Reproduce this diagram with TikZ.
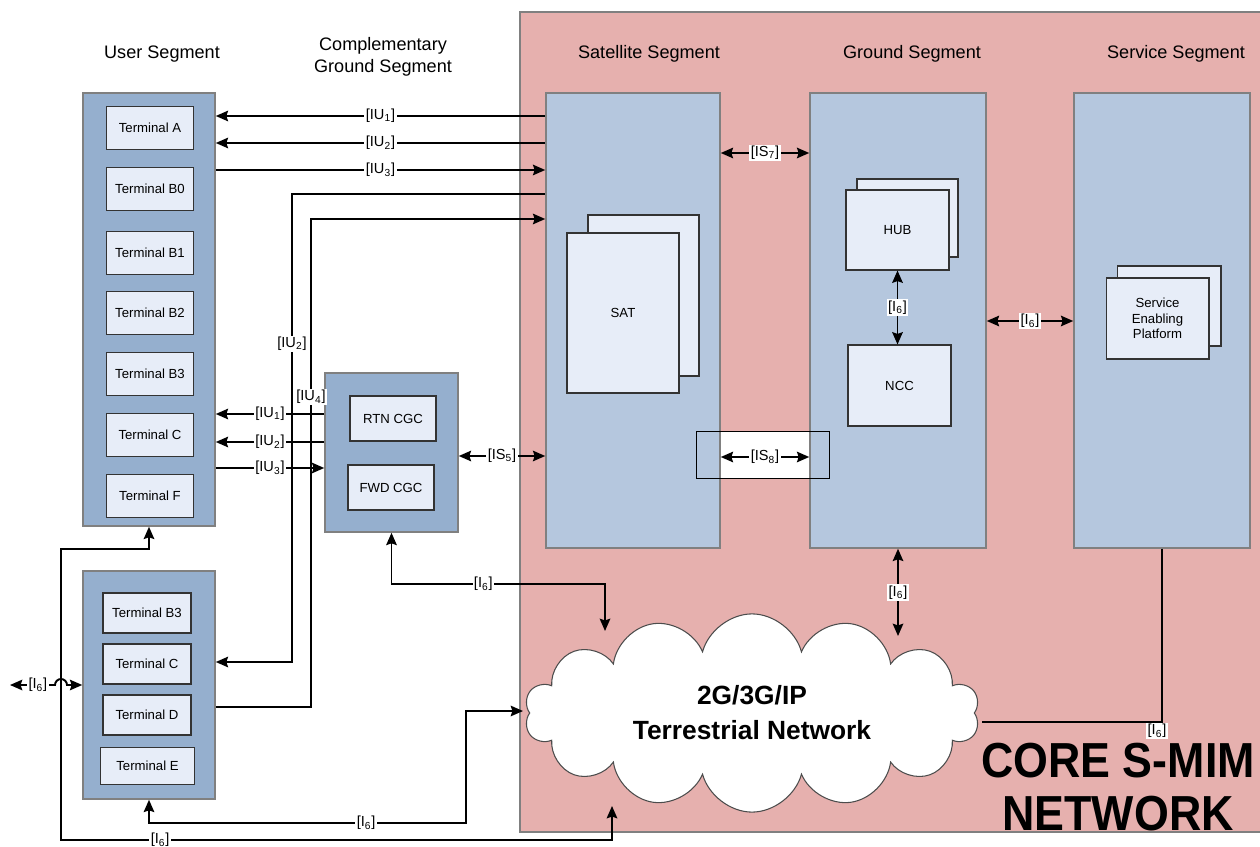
\documentclass[tikz,border=0pt]{standalone}
\usepackage{fontspec}
\setmainfont{Liberation Sans}
\usetikzlibrary{shapes.symbols,arrows.meta}

\definecolor{corepink}{RGB}{230,176,174}
\definecolor{usrblue}{RGB}{149,175,206}
\definecolor{segblue}{RGB}{181,199,222}
\definecolor{termfill}{RGB}{231,237,248}

\newcommand{\iface}[2]{[#1\textsubscript{#2}]}

\tikzset{
  segbox/.style={draw=gray,line width=0.9pt,fill=segblue,minimum width=3.52cm,minimum height=9.1cm},
  usrbox/.style={draw=gray,line width=0.9pt,fill=usrblue,minimum width=2.64cm},
  term/.style={draw=black!80,line width=0.6pt,fill=termfill,minimum width=1.74cm,minimum height=0.86cm,inner sep=0pt,font=\fontsize{7.5}{9}\selectfont},
  lab/.style={fill=white,inner sep=0.8pt,font=\fontsize{8.3}{9}\selectfont},
  title/.style={font=\fontsize{10.3}{12.5}\selectfont,align=center},
  conn/.style={line width=1.1pt},
}

\begin{document}
\begin{tikzpicture}[x=0.02cm,y=-0.02cm,>={Stealth[length=7pt,width=6pt,inset=1pt]}]
\useasboundingbox (0,0) rectangle (1260,847);
% core network area
\fill[corepink] (520,12) rectangle (1265,832);
\draw[gray,line width=0.8pt] (1265,12) -- (520,12) -- (520,832) -- (1265,832);
\fill[white] (720,431) rectangle (810,478);

% segment titles
\node[title] (tusr) at (162,54) {User Segment};
\node[title] (tcgc) at (383,57) {Complementary\\Ground Segment};
\node[title] (tsat) at (649,54) {Satellite Segment};
\node[title] (tgnd) at (912,54) {Ground Segment};
\node[title] (tsrv) at (1176,54) {Service Segment};

% user segment
\node[usrbox,minimum height=8.66cm] (usr) at (149,309.5) {};
\foreach \y/\n/\t in {128/ta/A,189/tb0/B0,253/tb1/B1,313/tb2/B2,374/tb3/B3,435/tc/C,496/tf/F}
  \node[term] (\n) at (150,\y) {Terminal \t};

\node[usrbox,minimum height=4.56cm] (usrb) at (149,685) {};
\foreach \y/\n/\t in {613/lb3/B3,664/lc/C,715/ld/D}
  \node[term,minimum width=1.76cm,minimum height=0.8cm] (\n) at (147,\y) {Terminal \t};
\node[term,minimum width=1.88cm,minimum height=0.74cm] (le) at (147.5,766) {Terminal E};

% complementary ground segment
\node[usrbox,minimum width=2.66cm,minimum height=3.18cm] (cgc) at (391.5,452.5) {};
\node[term,minimum width=1.72cm,minimum height=0.9cm] (rtn) at (393,418.5) {RTN CGC};
\node[term,minimum width=1.72cm,minimum height=0.9cm] (fwd) at (391,487.5) {FWD CGC};

% core segments
\node[segbox,minimum width=3.48cm] (sat) at (633,320.5) {};
\node[segbox] (gnd) at (898,320.5) {};
\node[segbox] (srv) at (1162,320.5) {};

\node[term,minimum width=2.22cm,minimum height=3.22cm] (satb) at (643.5,295.5) {};
\node[term,minimum width=2.24cm,minimum height=3.2cm] (satf) at (623,313) {SAT};

\node[term,minimum width=2.02cm,minimum height=1.56cm] (hubb) at (907.5,218) {};
\node[term,minimum width=2.06cm,minimum height=1.6cm] (hubf) at (897.5,230) {HUB};
\node[term,minimum width=2.06cm,minimum height=1.62cm] (ncc) at (899.5,385.5) {NCC};

\node[term,minimum width=2.08cm,minimum height=1.6cm] (sepb) at (1169,306) {};
\node[term,minimum width=2.06cm,minimum height=1.62cm,align=center,font=\fontsize{7.5}{8.8}\selectfont] (sepf) at (1157.5,318.5) {Service\\Enabling\\Platform};

\draw[black,line width=0.5pt] (696,431) rectangle (829,478);

% terrestrial network
\node[cloud,cloud puffs=14,aspect=2.5,draw=black!70,fill=white,line width=0.6pt,
  minimum width=9.1cm,minimum height=3.4cm,align=center,
  font=\bfseries\fontsize{15}{20}\selectfont] (net) at (752,713) {2G/3G/IP\\Terrestrial Network};

\node[font=\bfseries\fontsize{28}{30}\selectfont] (core1) at (1118,761) {\scalebox{0.91}[1]{CORE S-MIM}};
\node[font=\bfseries\fontsize{28}{30}\selectfont] (core2) at (1118,814) {\scalebox{0.91}[1]{NETWORK}};

\coordinate (netg) at (898,636);
\coordinate (netc) at (605,631);
\coordinate (nets) at (982,722);
\coordinate (netb) at (612,806);
\coordinate (netl) at (523,711);
\coordinate (ext) at (10,685);

% user links
\draw[conn,->] (sat.west|-0,116) -- node[lab]{\iface{IU}{1}} (usr.east|-0,116);
\draw[conn,->] (sat.west|-0,143) -- node[lab]{\iface{IU}{2}} (usr.east|-0,143);
\draw[conn,->] (usr.east|-0,170) -- node[lab]{\iface{IU}{3}} (sat.west|-0,170);
\draw[conn,->] (sat.west|-0,194) -- (292,194) -- node[lab,pos=0.32]{\iface{IU}{2}} (292,662) -- (usrb.east|-0,662);
\draw[conn,->] (usrb.east|-0,707) -- (311,707) -- node[lab,pos=0.635]{\iface{IU}{4}} (311,219) -- (sat.west|-0,219);

\draw[conn,->] (cgc.west|-0,414) -- node[lab]{\iface{IU}{1}} (usr.east|-0,414);
\draw[conn,->] (cgc.west|-0,442) -- node[lab]{\iface{IU}{2}} (usr.east|-0,442);
\draw[conn,->] (usr.east|-0,468) -- node[lab]{\iface{IU}{3}} (cgc.west|-0,468);

% inter-segment links
\draw[conn,<->] (cgc.east|-0,456) -- node[lab]{\iface{IS}{5}} (sat.west|-0,456);
\draw[conn,<->] (sat.east|-0,153) -- node[lab]{\iface{IS}{7}} (gnd.west|-0,153);
\draw[conn,<->] (sat.east|-0,457) -- node[lab]{\iface{IS}{8}} (gnd.west|-0,457);
\draw[conn,<->] (gnd.east|-0,321) -- node[lab]{\iface{I}{6}} (srv.west|-0,321);
\draw[conn,<->] (hubf.south) -- node[lab]{\iface{I}{6}} (hubf.south|-ncc.north);

% terrestrial links
\draw[conn,<->] (gnd.south) -- node[lab]{\iface{I}{6}} (netg);
\draw[conn,<->] (cgc.south) -- (cgc.south|-0,584) -- node[lab,pos=0.43]{\iface{I}{6}} (netc|-0,584) -- (netc);
\draw[conn] (srv.south) -- (srv.south|-nets) -- (nets);
\node[lab] (l6s) at (1157,731) {\iface{I}{6}};
\draw[conn,<->] (usr.south) -- (usr.south|-0,549) -- (61,549) -- (61,840) -- node[lab,pos=0.18]{\iface{I}{6}} (netb|-0,840) -- (netb);
\draw[conn,<->] (usrb.south) -- (usrb.south|-0,823) -- node[lab,pos=0.685]{\iface{I}{6}} (466,823) -- (466,711) -- (netl);
\draw[conn,<->] (ext) -- node[lab,pos=0.62]{\iface{I}{6}} (55,685) arc[start angle=180,end angle=0,radius=0.12cm] -- (usrb.west|-0,685);
\end{tikzpicture}
\end{document}
